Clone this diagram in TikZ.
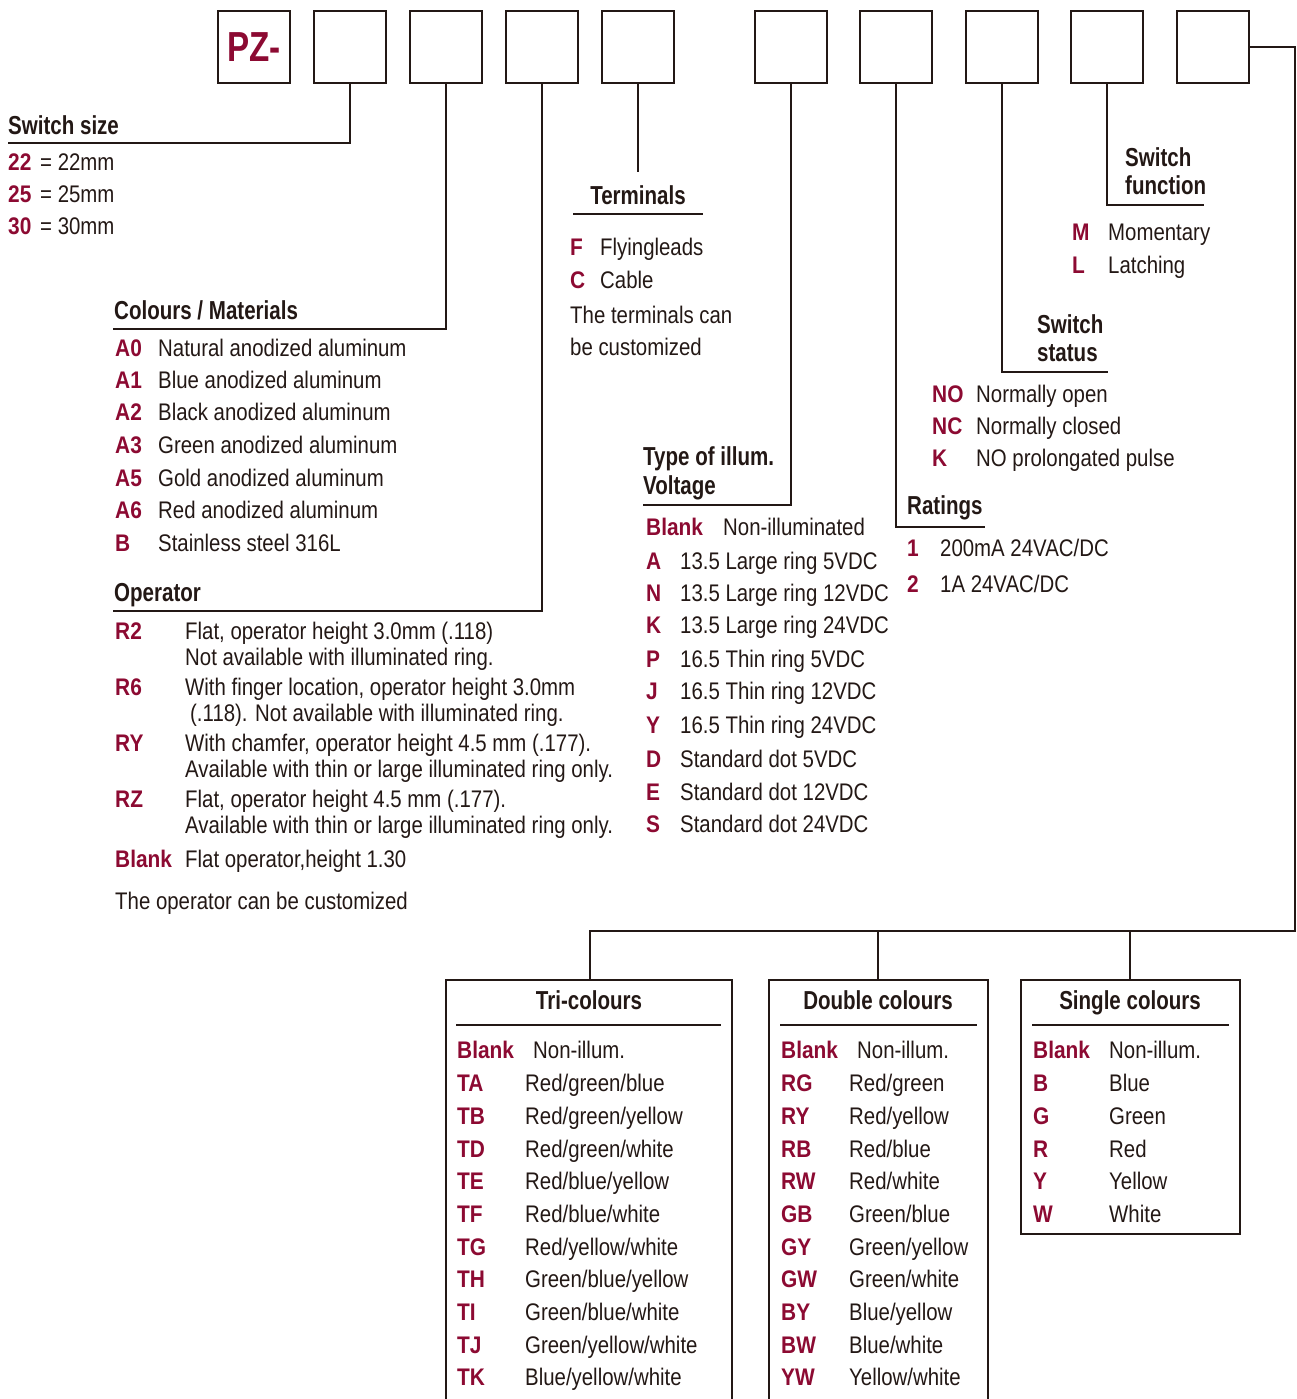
\documentclass[tikz,border=0pt]{standalone}
\usepackage{fontspec}
\setmainfont{Liberation Sans}[FakeStretch=0.85, BoldFeatures={FakeStretch=0.79}]
\newfontfamily\codefont{Liberation Sans}[FakeStretch=0.87]
\definecolor{ink}{HTML}{231815}
\definecolor{codered}{HTML}{8C0A32}
\tikzset{
  txt/.style={anchor=base west, inner sep=0pt, yshift=-8.6pt, text=ink, font=\fontsize{24}{28}\selectfont},
  code/.style={txt, text=codered, font=\codefont\bfseries\fontsize{24}{28}\selectfont},
  hdr/.style={anchor=base west, inner sep=0pt, yshift=-9.5pt, text=ink, font=\bfseries\fontsize{26}{30}\selectfont},
  hdrc/.style={hdr, anchor=base},
  topbox/.style={draw=ink, line width=2.6pt, minimum size=72pt, inner sep=0pt, rectangle},
  conn/.style={draw=ink, line width=1.8pt},
  frame/.style={draw=ink, line width=2pt},
}
\begin{document}
\begin{tikzpicture}[x=1pt, y=-1pt]
\useasboundingbox (0,0) rectangle (1296,1399);
% top boxes
\node[topbox, text=codered, font=\bfseries\fontsize{42}{46}\selectfont] (b1) at (254,47) {PZ-};
\foreach \n/\x in {b2/350, b3/446, b4/542, b5/638, b6/791, b7/896, b8/1002, b9/1107, b10/1213}
  \node[topbox] (\n) at (\x,47) {};
% connector end points
\coordinate (e2) at (8,143);
\coordinate (e3) at (113,329);
\coordinate (e4) at (113,611);
\coordinate (e5) at (638,172);
\coordinate (e6) at (643,505);
\coordinate (e7) at (985,527);
\coordinate (e8) at (1108,372);
\coordinate (e9) at (1204,205);
\coordinate (r1) at (1295,931);
\coordinate (tri) at (590,980);
\coordinate (dbl) at (878,980);
\coordinate (sgl) at (1130,980);
\draw[conn] (b2.south) |- (e2);
\draw[conn] (b3.south) |- (e3);
\draw[conn] (b4.south) |- (e4);
\draw[conn] (b5.south) -- (e5);
\draw[conn] (b6.south) |- (e6);
\draw[conn] (b7.south) |- (e7);
\draw[conn] (b8.south) |- (e8);
\draw[conn] (b9.south) |- (e9);
\draw[conn] (b10.east) -| (r1) -| (tri);
\draw[conn] (dbl |- r1) -- (dbl);
\draw[conn] (sgl |- r1) -- (sgl);
\draw[conn] (573,214) -- (703,214);
% bottom frames
\draw[frame] (446,1402) -- (446,980) -- (732,980) -- (732,1402);
\draw[frame] (769,1402) -- (769,980) -- (988,980) -- (988,1402);
\draw[frame] (1021,980) rectangle (1240,1234);
\draw[conn] (456,1025) -- (721,1025);
\draw[conn] (780,1025) -- (977,1025);
\draw[conn] (1032,1025) -- (1229,1025);

% Switch size
\node[hdr] (hss) at (8,125) {Switch size};
\foreach \c/\y [count=\i] in {22/162, 25/194, 30/226} {
  \node[code] (ssc\i) at (8,\y) {\c};
  \node[txt] (ssd\i) at (40,\y) {= \c mm};
}
% Colours / Materials
\node[hdr] (hcm) at (114,310) {Colours / Materials};
\foreach \c/\d/\y [count=\i] in {A0/Natural anodized aluminum/348, A1/Blue anodized aluminum/380, A2/Black anodized aluminum/412, A3/Green anodized aluminum/445, A5/Gold anodized aluminum/478, A6/Red anodized aluminum/510, B/Stainless steel 316L/543} {
  \node[code] (cmc\i) at (115,\y) {\c};
  \node[txt] (cmd\i) at (158,\y) {\d};
}
% Operator
\node[hdr] (hop) at (114,592) {Operator};
\foreach \c/\y [count=\i] in {R2/631, R6/687, RY/743, RZ/799, Blank/859}
  \node[code] (opc\i) at (115,\y) {\c};
\foreach \d/\x/\y [count=\i] in {{Flat, operator height 3.0mm (.118)}/185/631,
  {Not available with illuminated ring.}/185/657,
  {With finger location, operator height 3.0mm}/185/687,
  {(.118). Not available with illuminated ring.}/190/713,
  {With chamfer, operator height 4.5 mm (.177).}/185/743,
  {Available with thin or large illuminated ring only.}/185/769,
  {Flat, operator height 4.5 mm (.177).}/185/799,
  {Available with thin or large illuminated ring only.}/185/825,
  {Flat operator,height 1.30}/185/859,
  {The operator can be customized}/115/901}
  \node[txt] (opd\i) at (\x,\y) {\d};
% Terminals
\node[hdrc] (hte) at (638,195) {Terminals};
\node[code] (tec1) at (570,247) {F};
\node[txt] (ted1) at (600,247) {Flyingleads};
\node[code] (tec2) at (570,280) {C};
\node[txt] (ted2) at (600,280) {Cable};
\node[txt] (ted3) at (570,315) {The terminals can};
\node[txt] (ted4) at (570,347) {be customized};
% Type of illum
\node[hdr] (hty1) at (643,456) {Type of illum.};
\node[hdr] (hty2) at (643,485) {Voltage};
\node[code] (tyc0) at (646,527) {Blank};
\node[txt] (tyd0) at (723,527) {Non-illuminated};
\foreach \c/\d/\y [count=\i] in {A/13.5 Large ring 5VDC/561, N/13.5 Large ring 12VDC/593, K/13.5 Large ring 24VDC/625, P/16.5 Thin ring 5VDC/659, J/16.5 Thin ring 12VDC/691, Y/16.5 Thin ring 24VDC/725, D/Standard dot 5VDC/759, E/Standard dot 12VDC/792, S/Standard dot 24VDC/824} {
  \node[code] (tyc\i) at (646,\y) {\c};
  \node[txt] (tyd\i) at (680,\y) {\d};
}
% Ratings
\node[hdr] (hra) at (907,505) {Ratings};
\node[code] (rac1) at (907,548) {1};
\node[txt] (rad1) at (940,548) {200mA 24VAC/DC};
\node[code] (rac2) at (907,584) {2};
\node[txt] (rad2) at (940,584) {1A 24VAC/DC};
% Switch status
\node[hdr] (hst1) at (1037,324) {Switch};
\node[hdr] (hst2) at (1037,352) {status};
\foreach \c/\d/\y [count=\i] in {NO/Normally open/394, NC/Normally closed/426, K/NO prolongated pulse/458} {
  \node[code] (stc\i) at (932,\y) {\c};
  \node[txt] (std\i) at (976,\y) {\d};
}
% Switch function
\node[hdr] (hsf1) at (1125,157) {Switch};
\node[hdr] (hsf2) at (1125,185) {function};
\node[code] (sfc1) at (1072,232) {M};
\node[txt] (sfd1) at (1108,232) {Momentary};
\node[code] (sfc2) at (1072,265) {L};
\node[txt] (sfd2) at (1108,265) {Latching};
% Tri-colours
\node[hdrc] (htri) at (589,1000) {Tri-colours};
\node[code] (tric0) at (457,1050) {Blank};
\node[txt] (trid0) at (533,1050) {Non-illum.};
\foreach \c/\d [count=\i] in {TA/Red\slash green\slash blue, TB/Red\slash green\slash yellow, TD/Red\slash green\slash white, TE/Red\slash blue\slash yellow, TF/Red\slash blue\slash white, TG/Red\slash yellow\slash white, TH/Green\slash blue\slash yellow, TI/Green\slash blue\slash white, TJ/Green\slash yellow\slash white, TK/Blue\slash yellow\slash white} {
  \node[code] (tric\i) at (457,{1083+32.7*(\i-1)}) {\c};
  \node[txt] (trid\i) at (525,{1083+32.7*(\i-1)}) {\d};
}
% Double colours
\node[hdrc] (hdbl) at (878,1000) {Double colours};
\node[code] (dblc0) at (781,1050) {Blank};
\node[txt] (dbld0) at (857,1050) {Non-illum.};
\foreach \c/\d [count=\i] in {RG/Red\slash green, RY/Red\slash yellow, RB/Red\slash blue, RW/Red\slash white, GB/Green\slash blue, GY/Green\slash yellow, GW/Green\slash white, BY/Blue\slash yellow, BW/Blue\slash white, YW/Yellow\slash white} {
  \node[code] (dblc\i) at (781,{1083+32.7*(\i-1)}) {\c};
  \node[txt] (dbld\i) at (849,{1083+32.7*(\i-1)}) {\d};
}
% Single colours
\node[hdrc] (hsgl) at (1130,1000) {Single colours};
\node[code] (sglc0) at (1033,1050) {Blank};
\node[txt] (sgld0) at (1109,1050) {Non-illum.};
\foreach \c/\d [count=\i] in {B/Blue, G/Green, R/Red, Y/Yellow, W/White} {
  \node[code] (sglc\i) at (1033,{1083+32.7*(\i-1)}) {\c};
  \node[txt] (sgld\i) at (1109,{1083+32.7*(\i-1)}) {\d};
}
\end{tikzpicture}
\end{document}
